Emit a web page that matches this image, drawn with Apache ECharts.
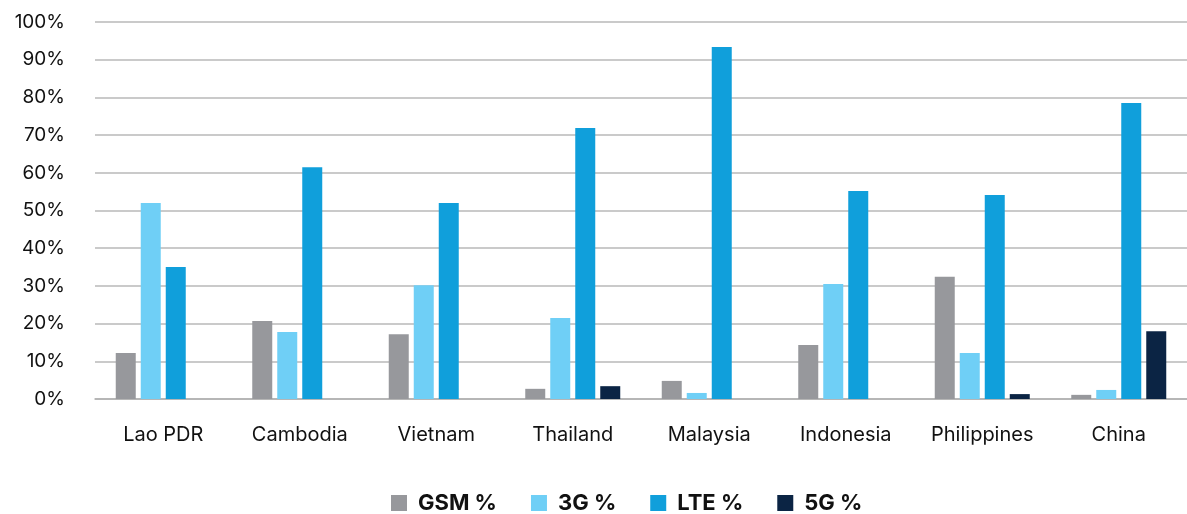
<!DOCTYPE html>
<html>
<head>
<meta charset="utf-8">
<script src="https://cdn.jsdelivr.net/npm/echarts@6/dist/echarts.min.js"></script>
<style>
  html, body { margin: 0; padding: 0; background: #fff; }
  #chart { width: 1187px; height: 514px; }
</style>
</head>
<body>
<div id="chart"></div>
<script>
// countries on the x axis
const countries = ["Lao PDR", "Cambodia", "Vietnam", "Thailand", "Malaysia", "Indonesia", "Philippines", "China"];
// share of connections per technology, in %
const gsm = [12.2, 20.7, 17.2, 2.7, 4.8, 14.3, 32.4, 1.1];
const g3 = [52.0, 17.8, 30.2, 21.5, 1.6, 30.5, 12.2, 2.4];
const lte = [35.0, 61.5, 52.0, 71.9, 93.4, 55.2, 54.1, 78.5];
const g5 = [0, 0, 0, 3.4, 0, 0, 1.3, 18.0];

const seriesNames = ["GSM %", "3G %", "LTE %", "5G %"];
const colors = ["#97989c", "#6fcff6", "#109fdb", "#0b2444"];
const font = "Inter";

const chart = echarts.init(document.getElementById("chart"));

const option = {
  animation: false,
  color: colors,
  grid: { left: 95, right: 0, top: 22, bottom: 115 },
  legend: {
    left: 386,
    top: 487,
    itemWidth: 16,
    itemHeight: 16,
    itemGap: 34,
    icon: "rect",
    textStyle: { fontFamily: font, fontSize: 22, fontWeight: "bold", color: "#111", padding: [0, 0, 0, 6] },
    data: seriesNames,
  },
  xAxis: {
    type: "category",
    data: countries,
    axisLine: { show: true, lineStyle: { color: "#b0b0b0", width: 1.5 } },
    axisTick: { show: false },
    axisLabel: { fontFamily: font, fontSize: 20, color: "#111", margin: 26 },
  },
  yAxis: {
    type: "value",
    min: 0,
    max: 100,
    interval: 10,
    axisLine: { show: false },
    axisTick: { show: false },
    splitLine: { lineStyle: { color: "#b8b8b8", width: 1.5 } },
    axisLabel: { fontFamily: font, fontSize: 19, color: "#111", margin: 30, formatter: "{value}%" },
  },
  series: [gsm, g3, lte, g5].map((d, i) => ({
    name: seriesNames[i],
    type: "bar",
    barWidth: 20,
    barGap: "25%",
    data: d,
  })),
};

chart.setOption(option);
</script>
</body>
</html>
